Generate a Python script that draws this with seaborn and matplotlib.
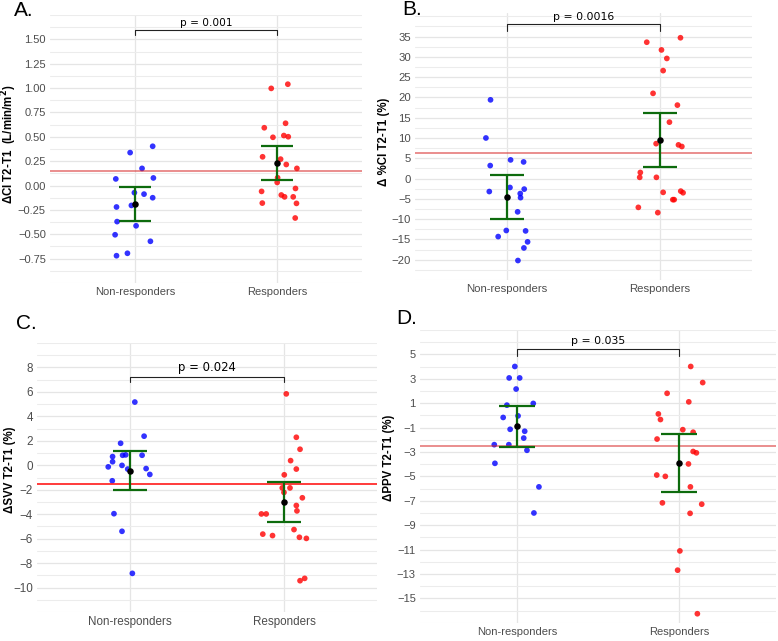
import matplotlib
matplotlib.use("Agg")
import numpy as np
import pandas as pd
import matplotlib.pyplot as plt
import seaborn as sns

sns.set_theme(style="white")
plt.rcParams["font.family"] = ["Liberation Sans", "DejaVu Sans"]

groups = ["Non-responders", "Responders"]

# ---------------- Panel A: delta CI ----------------
a_non = [0.338, 0.403, 0.176, 0.068, 0.078, -0.073, -0.088, -0.125, -0.220, -0.204,
         -0.370, -0.413, -0.505, -0.572, -0.695, -0.720]
a_non_jit = [-0.035, 0.124, 0.049, -0.136, 0.129, -0.005, 0.063, 0.124, -0.131, -0.026,
             -0.127, 0.007, -0.141, 0.108, -0.054, -0.131]
a_resp = [1.040, 0.997, 0.639, 0.593, 0.513, 0.501, 0.495, 0.295, 0.271, 0.216, 0.176,
          0.080, 0.032, -0.060, -0.030, -0.097, -0.116, -0.116, -0.180, -0.183, -0.333]
a_resp_jit = [0.077, -0.040, 0.061, -0.089, 0.049, 0.080, -0.028, -0.101, 0.026, 0.066, 0.141,
              0.005, 0.002, -0.108, 0.131, 0.031, 0.054, 0.115, -0.103, 0.138, 0.129]
a_mean = [-0.190, 0.228]
a_lo = [-0.365, 0.056]
a_hi = [-0.015, 0.403]
a_thr = 0.15
a_p = "p = 0.001"

# ---------------- Panel B: delta %CI ----------------
b_non = [19.4, 10.0, 4.6, 4.1, 3.2, -2.2, -2.6, -3.2, -3.7, -4.7, -8.2, -12.8, -12.9,
         -14.3, -15.6, -17.1, -20.2]
b_non_jit = [-0.107, -0.137, 0.024, 0.109, -0.109, 0.020, 0.113, -0.115, 0.087, 0.089,
             0.070, -0.004, 0.122, -0.057, 0.135, 0.111, 0.072]
b_resp = [34.7, 33.6, 31.7, 29.6, 26.6, 21.0, 18.1, 13.9, 8.6, 8.3, 7.9, 1.5, 0.3, 0.3,
          -3.4, -3.1, -3.5, -5.2, -5.2, -7.1, -8.4]
b_resp_jit = [0.133, -0.087, 0.009, 0.044, 0.020, -0.046, 0.113, 0.061, -0.026, 0.120, 0.142,
              -0.129, -0.133, -0.024, 0.020, 0.135, 0.150, 0.083, 0.092, -0.142, -0.015]
b_mean = [-4.5, 9.6]
b_lo = [-10.0, 2.9]
b_hi = [0.9, 16.2]
b_thr = 6.2
b_p = "p = 0.0016"

# ---------------- Panel C: delta SVV ----------------
c_non = [5.17, 2.38, 1.80, 0.71, 0.82, 0.85, 0.82, 0.29, -0.13, -0.01, -0.31, -0.27,
         -0.75, -1.27, -3.96, -5.40, -8.84]
c_non_jit = [0.033, 0.093, -0.059, -0.111, -0.046, -0.026, 0.080, -0.111, -0.139, -0.050,
             -0.013, 0.106, 0.130, -0.113, -0.102, -0.050, 0.017]
c_resp = [5.84, 2.29, 1.31, 0.38, -0.31, -0.78, -1.85, -1.85, -2.22, -2.66, -3.29, -3.73,
          -3.98, -3.98, -5.26, -5.63, -5.75, -5.89, -5.98, -9.25, -9.44]
c_resp_jit = [0.013, 0.078, 0.102, 0.041, 0.078, 0.000, -0.013, 0.037, -0.002, 0.117, 0.078,
              0.082, -0.148, -0.117, 0.063, -0.139, -0.076, 0.098, 0.143, 0.132, 0.102]
c_mean = [-0.43, -3.01]
c_lo = [-2.03, -4.66]
c_hi = [1.20, -1.38]
c_thr = -1.5
c_p = "p = 0.024"

# ---------------- Panel D: delta PPV ----------------
d_non = [4.01, 3.07, 3.07, 2.16, 0.84, 0.98, -0.04, -0.17, -1.14, -1.30, -1.86, -2.40,
         -2.40, -2.86, -3.93, -5.86, -8.00]
d_non_jit = [-0.014, -0.049, 0.016, -0.006, -0.063, 0.100, 0.006, -0.086, -0.043, 0.047,
             0.041, -0.141, -0.051, 0.061, -0.137, 0.135, 0.104]
d_resp = [4.01, 2.69, 1.81, 1.11, 0.12, -0.34, -1.17, -1.38, -1.94, -2.96, -3.07, -3.98,
          -4.89, -5.00, -5.86, -7.17, -7.28, -8.03, -11.11, -12.69, -16.26]
d_resp_jit = [0.073, 0.147, -0.073, 0.061, -0.127, -0.114, 0.024, 0.088, -0.135, 0.088, 0.108,
              0.059, -0.137, -0.084, 0.071, -0.102, 0.141, 0.069, 0.006, -0.008, 0.114]
d_mean = [-0.90, -3.90]
d_lo = [-2.56, -6.29]
d_hi = [0.74, -1.54]
d_thr = -2.5
d_p = "p = 0.035"

W, H = 778, 641
fig = plt.figure(figsize=(W / 100, H / 100), dpi=100)


def ax_at(l, r, t, b):
    return fig.add_axes([l / W, 1 - b / H, (r - l) / W, (b - t) / H])


def panel(ax, non, non_j, resp, resp_j, mean, lo, hi, thr, thr_color, thr_alpha, ptxt,
          br_y, br_tick, ylim, majors, fmt, fs, pfs):
    step = majors[1] - majors[0]
    minors = [m + step / 2 for m in majors[:-1]] + [majors[0] - step, majors[-1] + step,
                                                     majors[0] - step / 2, majors[-1] + step / 2]
    ax.set_xlim(-0.6, 1.6)
    ax.set_ylim(*ylim)
    ax.set_yticks(majors)
    ax.set_yticks(minors, minor=True)
    ax.set_xticks([0, 1])
    ax.set_xticklabels(groups)
    ax.set_yticklabels([fmt.format(v).replace("-", "\u2212") for v in majors])
    ax.grid(True, which="major", axis="both", color="#e5e5e5", lw=0.9, zorder=0)
    ax.grid(True, which="minor", axis="y", color="#ececec", lw=0.75, zorder=0)
    ax.set_axisbelow(True)
    for s in ax.spines.values():
        s.set_visible(False)
    ax.tick_params(axis="both", which="both", length=0, labelsize=fs, colors="#4d4d4d", pad=3)

    df = pd.DataFrame({
        "x": [0 + j for j in non_j] + [1 + j for j in resp_j],
        "y": list(non) + list(resp),
        "g": [groups[0]] * len(non) + [groups[1]] * len(resp),
    })
    sns.scatterplot(data=df, x="x", y="y", hue="g", palette={groups[0]: "#0000ff", groups[1]: "#ff0000"},
                    s=17, alpha=0.8, linewidth=0, legend=False, ax=ax, zorder=3)
    ax.axhline(thr, color=thr_color, alpha=thr_alpha, lw=1.3, zorder=4)
    for i in range(2):
        ax.plot([i, i], [lo[i], hi[i]], color="#0d6b0d", lw=1.6, zorder=5, solid_capstyle="butt")
        ax.plot([i - 0.11, i + 0.11], [lo[i], lo[i]], color="#0d6b0d", lw=1.6, zorder=5, solid_capstyle="butt")
        ax.plot([i - 0.11, i + 0.11], [hi[i], hi[i]], color="#0d6b0d", lw=1.6, zorder=5, solid_capstyle="butt")
    mdf = pd.DataFrame({"x": [0, 1], "y": mean})
    sns.scatterplot(data=mdf, x="x", y="y", color="black", s=22, linewidth=0, ax=ax, zorder=6, legend=False)
    ax.plot([0, 0, 1, 1], [br_y - br_tick, br_y, br_y, br_y - br_tick], color="#222222", lw=0.8,
            zorder=6, clip_on=False)
    ax.annotate(ptxt, xy=(0.5, br_y), xytext=(0, 1.5), textcoords="offset points", ha="center",
                va="bottom", fontsize=pfs, color="black", annotation_clip=False,
                family=["DejaVu Sans"])
    ax.set_xlabel("")
    ax.set_ylabel("")


axA = ax_at(50, 362, 15, 283)
panel(axA, a_non, a_non_jit, a_resp, a_resp_jit, a_mean, a_lo, a_hi, a_thr, "#d62020", 0.55, a_p,
      1.592, 0.05, (-0.835, 1.635), [-0.75, -0.5, -0.25, 0, 0.25, 0.5, 0.75, 1.0, 1.25, 1.5], "{:.2f}", 8, 7.6)

axB = ax_at(415, 752, 13, 280)
panel(axB, b_non, b_non_jit, b_resp, b_resp_jit, b_mean, b_lo, b_hi, b_thr, "#d62020", 0.55, b_p,
      38.0, 1.7, (-22.4, 40.8), list(range(-20, 36, 5)), "{:d}", 8.2, 7.8)

axC = ax_at(37, 377, 343, 612)
panel(axC, c_non, c_non_jit, c_resp, c_resp_jit, c_mean, c_lo, c_hi, c_thr, "#ff2020", 0.95, c_p,
      7.26, 0.45, (-10.42, 8.33), list(range(-10, 9, 2)), "{:d}", 8.4, 8.4)

axD = ax_at(420, 776, 330, 623)
panel(axD, d_non, d_non_jit, d_resp, d_resp_jit, d_mean, d_lo, d_hi, d_thr, "#d62020", 0.55, d_p,
      5.48, 0.6, (-17.02, 6.55), list(range(-15, 6, 2)), "{:d}", 8, 7.8)

# y-axis titles
lab_kw = dict(rotation=90, ha="center", va="center", fontsize=8.3, fontweight="bold", color="black")
fig.text(9 / W, 1 - 144 / H, "ΔCI T2-T1  (L/min/m$\\mathbf{^2}$)", **lab_kw)
fig.text(384 / W, 1 - 142 / H, "Δ %CI T2-T1 (%)", **lab_kw)
fig.text(10 / W, 1 - 470 / H, "ΔSVV T2-T1 (%)", **lab_kw)
fig.text(389 / W, 1 - 458 / H, "ΔPPV T2-T1 (%)", **lab_kw)

# panel letters
let_kw = dict(ha="left", va="top", fontsize=15, color="black")
fig.text(14 / W, 1 - 1 / H, "A.", **let_kw)
fig.text(402 / W, 1 - 0 / H, "B.", **let_kw)
fig.text(16 / W, 1 - 314 / H, "C.", **let_kw)
fig.text(396 / W, 1 - 309 / H, "D.", **let_kw)

fig.savefig("out.png", dpi=100)
